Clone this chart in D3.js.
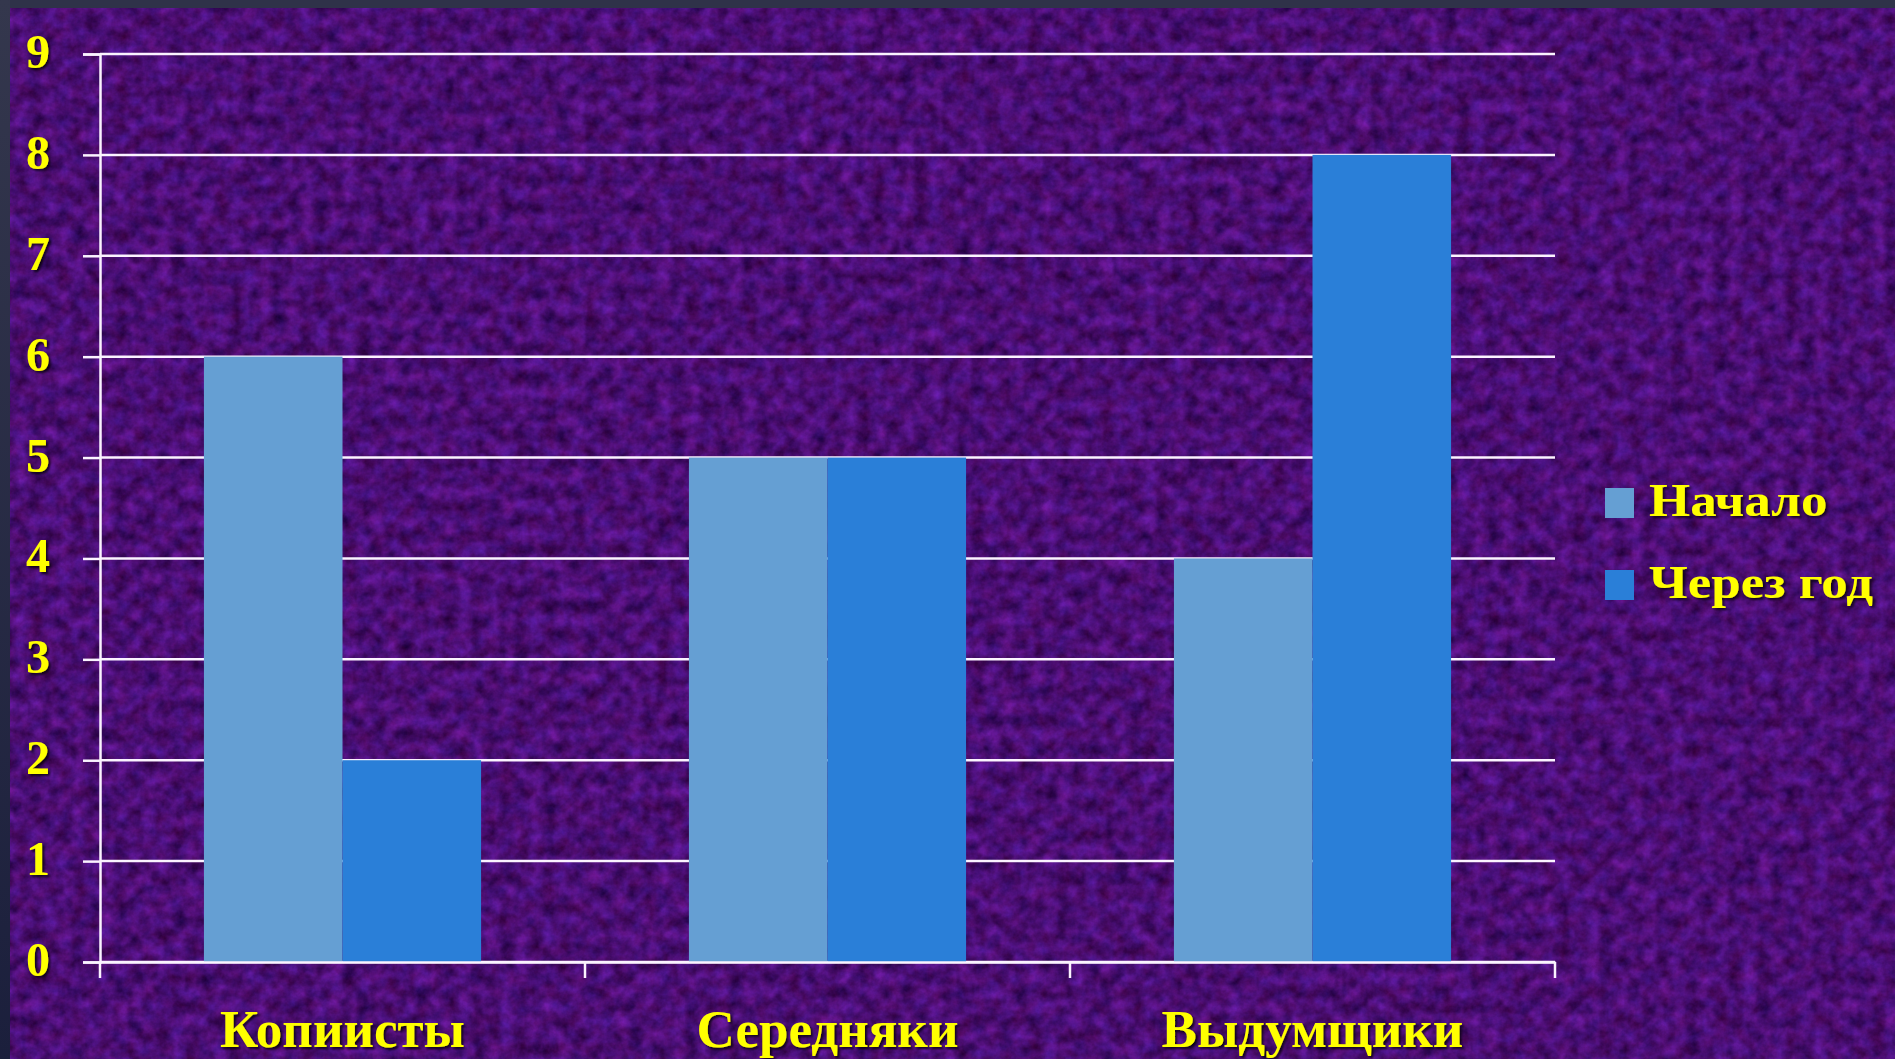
<!DOCTYPE html>
<html>
<head>
<meta charset="utf-8">
<script src="https://cdn.jsdelivr.net/npm/d3@7"></script>
<style>
  html, body { margin: 0; padding: 0; background: #2f3249; }
  svg { display: block; }
  .lbl { font-family: "Liberation Serif", "DejaVu Serif", serif; font-weight: bold; fill: #ffff00; }
</style>
</head>
<body>
<div id="chart"></div>
<script>
const categories = ['Копиисты', 'Середняки', 'Выдумщики'];
const seriesNames = ['Начало', 'Через год'];
const startValues = [6, 5, 4];
const yearValues = [2, 5, 8];
const yTickLabels = [0, 1, 2, 3, 4, 5, 6, 7, 8, 9];
const seriesColors = ['#659fd3', '#2a7fd8'];

const width = 1895, height = 1059;
const plot = { left: 100, right: 1555, top: 54, bottom: 962 };

const svg = d3.select('#chart').append('svg')
  .attr('width', width)
  .attr('height', height);

const defs = svg.append('defs');

// purple felt-like texture
const tex = defs.append('filter').attr('id', 'felt')
  .attr('x', 0).attr('y', 0).attr('width', '100%').attr('height', '100%')
  .attr('color-interpolation-filters', 'sRGB');
tex.append('feTurbulence')
  .attr('type', 'fractalNoise')
  .attr('baseFrequency', 0.07)
  .attr('numOctaves', 4)
  .attr('seed', 11);
tex.append('feColorMatrix')
  .attr('type', 'matrix')
  .attr('values', '0.3 0.16 0 0 0.06  0.13 0 0 0 -0.01  0.5 0 0 0 0.2  0 0 0 0 1');

const shadow = defs.append('filter').attr('id', 'shadow')
  .attr('x', '-10%').attr('y', '-20%').attr('width', '130%').attr('height', '150%');
shadow.append('feDropShadow')
  .attr('dx', 2).attr('dy', 2).attr('stdDeviation', 1.2)
  .attr('flood-color', '#000').attr('flood-opacity', 0.75);

const edge = defs.append('linearGradient').attr('id', 'edge')
  .attr('x1', 0).attr('y1', 0).attr('x2', 0).attr('y2', 1);
edge.append('stop').attr('offset', 0).attr('stop-color', '#34374d');
edge.append('stop').attr('offset', 1).attr('stop-color', '#1b1f3c');

// background
svg.append('rect').attr('width', width).attr('height', height).attr('fill', '#3e0e80');
svg.append('rect').attr('x', 10).attr('y', 8).attr('width', width - 10).attr('height', height - 8)
  .attr('filter', 'url(#felt)');
svg.append('rect').attr('width', width).attr('height', 8).attr('fill', '#2f3249');
svg.append('rect').attr('width', 10).attr('height', height).attr('fill', 'url(#edge)');

// scales
const x = d3.scaleBand().domain(categories).range([plot.left, plot.right]).padding(0);
const xSub = d3.scaleBand().domain(seriesNames).range([0, x.bandwidth()])
  .paddingInner(0).paddingOuter(0.75);
const y = d3.scaleLinear().domain([0, 9]).range([plot.bottom, plot.top]);

// gridlines
svg.append('g')
  .selectAll('line')
  .data(yTickLabels)
  .join('line')
  .attr('x1', plot.left).attr('x2', plot.right)
  .attr('y1', d => y(d)).attr('y2', d => y(d))
  .attr('stroke', '#fbf3ff').attr('stroke-width', 2.5);

// bars
const rows = categories.map((c, i) => ({ cat: c, vals: [startValues[i], yearValues[i]] }));
const groups = svg.append('g').selectAll('g')
  .data(rows)
  .join('g')
  .attr('transform', d => `translate(${x(d.cat)},0)`);
groups.selectAll('rect')
  .data(d => d.vals.map((v, j) => ({ s: seriesNames[j], v, j })))
  .join('rect')
  .attr('x', d => xSub(d.s))
  .attr('width', xSub.bandwidth())
  .attr('y', d => y(d.v))
  .attr('height', d => y(0) - y(d.v))
  .attr('fill', d => seriesColors[d.j]);

// y axis
const yAxis = svg.append('g')
  .attr('transform', `translate(${plot.left},0)`)
  .call(d3.axisLeft(y).tickValues(yTickLabels).tickSize(17).tickPadding(33).tickFormat(d3.format('d')));
yAxis.select('.domain').attr('stroke', '#fbf3ff').attr('stroke-width', 2.5);
yAxis.selectAll('.tick line').attr('stroke', '#fbf3ff').attr('stroke-width', 2.5);
yAxis.selectAll('.tick text')
  .attr('class', 'lbl')
  .attr('dy', '0.28em')
  .attr('filter', 'url(#shadow)')
  .style('font-size', '48px');

// x axis
const xAxis = svg.append('g')
  .attr('transform', `translate(0,${plot.bottom})`)
  .call(d3.axisBottom(x).tickSize(0).tickPadding(50));
xAxis.select('.domain').attr('stroke', '#fbf3ff').attr('stroke-width', 2.5);
xAxis.selectAll('.tick text')
  .attr('class', 'lbl')
  .attr('dy', '0.71em')
  .attr('y', 47)
  .attr('filter', 'url(#shadow)')
  .style('font-size', '53px');
const bounds = categories.map(c => x(c)).concat([plot.right]);
xAxis.selectAll('.bound')
  .data(bounds)
  .join('line')
  .attr('class', 'bound')
  .attr('x1', d => d).attr('x2', d => d)
  .attr('y1', 0).attr('y2', 16)
  .attr('stroke', '#fbf3ff').attr('stroke-width', 2.5);

// legend
const legend = svg.append('g').attr('transform', 'translate(1605,488)');
const items = legend.selectAll('g')
  .data(seriesNames)
  .join('g')
  .attr('transform', (d, i) => `translate(0,${i * 82})`);
items.append('rect')
  .attr('width', 29).attr('height', 30)
  .attr('fill', (d, i) => seriesColors[i]);
items.append('text')
  .attr('class', 'lbl')
  .attr('x', 0).attr('y', 28)
  .attr('filter', 'url(#shadow)')
  .style('font-size', '46px')
  .attr('transform', 'translate(44,0) scale(1.15,1)')
  .text(d => d);
</script>
</body>
</html>
